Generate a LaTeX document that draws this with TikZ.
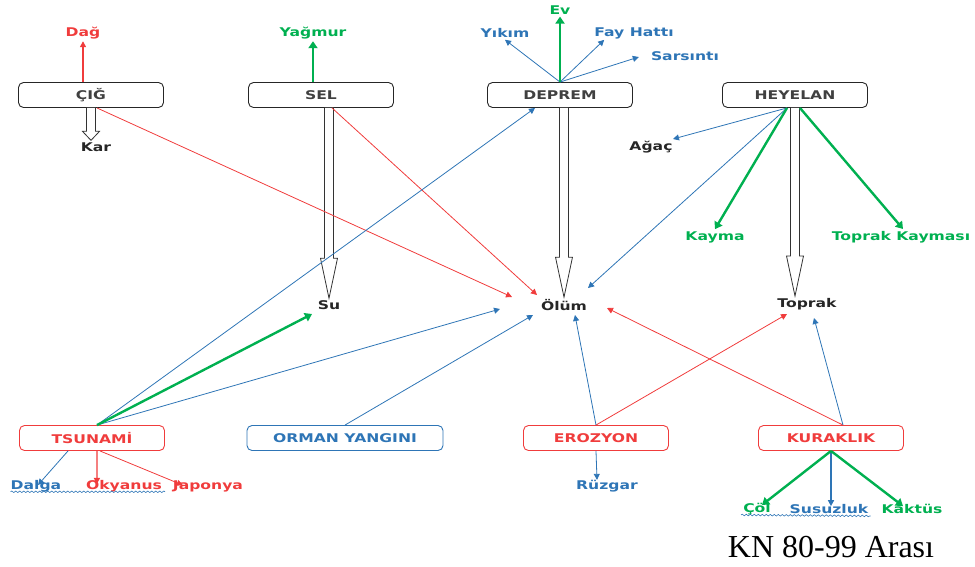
\documentclass[tikz,border=0pt]{standalone}
\usepackage{fontspec}
\usetikzlibrary{arrows.meta,calc,decorations.pathmorphing}
\newfontfamily\lblfont[FakeStretch=1.3]{DejaVu Sans}
\newfontfamily\capfont{Liberation Serif}
\definecolor{myred}{HTML}{F03C3C}
\definecolor{mygreen}{HTML}{00B050}
\definecolor{myblue}{HTML}{2E75B6}
\definecolor{boxtext}{HTML}{404040}
\definecolor{dark}{HTML}{262626}

% block arrow: start, tip, head length
\newcommand{\hollowarrow}[3]{%
  \draw[hollow] ($(#1)+(-4.5,0)$) -- ($(#2)+(-4.5,-#3)$) -- ($(#2)+(-8.5,-#3)$) -- (#2)
    -- ($(#2)+(8.5,-#3)$) -- ($(#2)+(4.5,-#3)$) -- ($(#1)+(4.5,0)$);}

\begin{document}
\begin{tikzpicture}[x=1pt, y=-1pt,
    box/.style={draw=black!85, rounded corners=5pt, line width=0.9pt, minimum width=145pt, minimum height=25pt, inner sep=0pt, fill=white, text=boxtext, font=\lblfont\bfseries\fontsize{12}{14}\selectfont},
    redbox/.style={box, draw=myred, text=myred},
    bluebox/.style={box, draw=myblue, text=myblue},
    lbl/.style={inner sep=2pt, font=\lblfont\bfseries\fontsize{12}{14}\selectfont},
    link/.style={line width=0.8pt, -{Triangle[length=6pt, width=6pt]}},
    fat/.style={line width=2.4pt, -{Triangle[length=7pt, width=9pt]}},
    hollow/.style={draw=black!80, fill=white, line width=0.8pt, line join=miter},
    wavy/.style={myblue, line width=0.6pt, decorate, decoration={snake, amplitude=0.8pt, segment length=4pt}}
]
    \useasboundingbox (0,0) rectangle (975,566);

    % Top boxes
    \node[box] (cig) at (91,95) {ÇIĞ};
    \node[box] (sel) at (321,95) {SEL};
    \node[box] (dep) at (560,95) {DEPREM};
    \node[box] (hey) at (795,95) {HEYELAN};

    % Bottom boxes
    \node[redbox] (tsu) at (92,438) {TSUNAMİ};
    \node[bluebox, minimum width=196pt] (orm) at (345,438) {ORMAN YANGINI};
    \node[redbox] (ero) at (596,438) {EROZYON};
    \node[redbox] (kur) at (831,438) {KURAKLIK};

    % Labels
    \node[lbl, myred] (dag) at (83,33) {Dağ};
    \node[lbl, mygreen] (yag) at (313,33) {Yağmur};
    \node[lbl, mygreen] (ev) at (560,10) {Ev};
    \node[lbl, myblue] (yik) at (505,33) {Yıkım};
    \node[lbl, myblue] (fay) at (634,33) {Fay Hattı};
    \node[lbl, myblue] (sar) at (685,56) {Sarsıntı};
    \node[lbl, dark] (kar) at (96,147) {Kar};
    \node[lbl, dark] (agac) at (651,147) {Ağaç};
    \node[lbl, mygreen] (kay) at (715,237) {Kayma};
    \node[lbl, mygreen] (tkay) at (901,237) {Toprak Kayması};
    \node[lbl, dark] (su) at (329,305) {Su};
    \node[lbl, dark] (olum) at (564,305) {Ölüm};
    \node[lbl, dark] (toprak) at (807,304) {Toprak};
    \node[lbl, myblue] (dalga) at (36,486) {Dalga};
    \node[lbl, myred] (oky) at (124,486) {Okyanus};
    \node[lbl, myred] (jap) at (208,486) {Japonya};
    \node[lbl, myblue] (ruz) at (607,486) {Rüzgar};
    \node[lbl, mygreen] (col) at (757,509) {Çöl};
    \node[lbl, myblue] (susu) at (829,509) {Susuzluk};
    \node[lbl, mygreen] (kak) at (912,509) {Kaktüs};

    \node[font=\capfont\fontsize{32}{38}\selectfont] (cap) at (831,547) {KN 80-99 Arası};

    % Block arrows
    \coordinate (kartip) at (cig.south |- kar.north);
    \coordinate (sutip) at (su.north);
    \coordinate (olumtip) at (olum.north);
    \coordinate (topraktip) at (hey.south |- toprak.north);
    \hollowarrow{cig.south}{kartip}{9}
    \hollowarrow{su.north |- sel.south}{sutip}{40}
    \hollowarrow{olum.north |- dep.south}{olumtip}{40}
    \hollowarrow{hey.south}{topraktip}{40}

    % Red links
    \draw[link, myred, line width=1.3pt] ($(cig.north)+(-8,0)$) -- (dag.south);
    \draw[link, myred] ($(cig.south)+(6,0)$) -- ($(olum)+(-52,-8)$);
    \draw[link, myred] ($(sel.south)+(11,0)$) -- ($(olum)+(-27,-10)$);
    \draw[link, myred] ($(kur.north)+(12,0)$) -- ($(olum)+(43,3)$);
    \draw[link, myred] (ero.north) -- ($(toprak)+(-20,10)$);
    \draw[link, myred, line width=1.3pt] ($(tsu.south)+(5,0)$) -- ($(oky.north west)+(13,6)$);
    \draw[link, myred] ($(tsu.south)+(8,0)$) -- ($(jap.north west)+(12,7)$);

    % Blue links
    \draw[link, myblue] ($(tsu.north)+(5,0)$) -- ($(dep.south)+(-25,0)$);
    \draw[link, myblue] ($(tsu.north)+(5,0)$) -- ($(olum)+(-64,4)$);
    \draw[link, myblue] (orm.north) -- ($(olum)+(-31,10)$);
    \draw[link, myblue] (ero.north) -- ($(olum)+(11,10)$);
    \draw[link, myblue] ($(hey.south)+(-8,0)$) -- ($(olum)+(24,-17)$);
    \draw[link, myblue] ($(hey.south)+(-8,0)$) -- ($(agac)+(22,-8)$);
    \draw[link, myblue] (dep.north) -- (yik.south);
    \draw[link, myblue] (dep.north) -- ($(fay.south west)+(12,-1)$);
    \draw[link, myblue] (dep.north) -- ($(sar.west)+(-10,1)$);
    \draw[link, myblue] ($(kur.north)+(12,0)$) -- ($(toprak)+(7,14)$);
    \draw[link, myblue] ($(tsu.south)+(-24,0)$) -- ($(dalga.north)+(2,7)$);
    \draw[link, myblue] (ero.south) -- ($(ruz.north)+(-10,2)$);
    \draw[link, myblue, line width=1.5pt] (kur.south) -- ($(susu.north)+(2,4)$);

    % Green links
    \draw[fat, mygreen] ($(sel.north)+(-8,0)$) -- (yag.south);
    \draw[fat, mygreen] (dep.north) -- (ev.south);
    \draw[fat, mygreen] ($(tsu.north)+(5,0)$) -- ($(su)+(-17,9)$);
    \draw[fat, mygreen] ($(hey.south)+(-8,0)$) -- (kay.north);
    \draw[fat, mygreen] ($(hey.south)+(5,0)$) -- ($(tkay.north)+(2,0)$);
    \draw[fat, mygreen] (kur.south) -- ($(col.north)+(5,4)$);
    \draw[fat, mygreen] (kur.south) -- ($(kak.north)+(-9,4)$);

    % Spelling underlines
    \draw[wavy] ($(dalga.base west)+(2,2.5)$) -- ($(oky.base east)+(1,2.5)$);
    \draw[wavy] ($(col.base west)+(0,2.5)$) -- ($(susu.base east)+(0,2.5)$);
\end{tikzpicture}
\end{document}
